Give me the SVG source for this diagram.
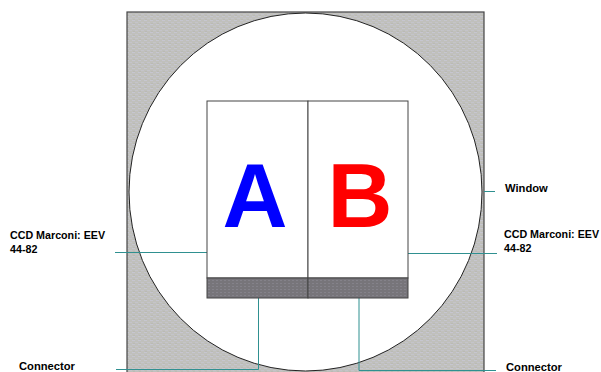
<svg xmlns="http://www.w3.org/2000/svg" width="601" height="372" viewBox="0 0 601 372">
<style>
text{font-family:"Liberation Sans",Arial,sans-serif;font-size:10.7px;font-weight:bold;fill:#000}
.w{font-size:11.2px}
.big{font-size:90px}
.c{fill:none;stroke:#2f9090;stroke-width:1}
</style>
<defs>
<pattern id="g" width="6" height="4" patternUnits="userSpaceOnUse">
<rect width="6" height="4" fill="#c0c0bc"/>
<rect x="0" y="0" width="3" height="1" fill="#c6c6d0"/>
<rect x="3" y="2" width="3" height="1" fill="#c4c4ca"/>
<rect x="1" y="3" width="2" height="1" fill="#babab4"/>
</pattern>
<pattern id="d" width="4" height="3" patternUnits="userSpaceOnUse">
<rect width="4" height="3" fill="#77757a"/>
<rect x="0" y="1" width="2" height="1" fill="#84828a"/>
</pattern>
</defs>
<rect width="601" height="372" fill="#fff"/>
<g id="window">
<rect x="127" y="12" width="357" height="362" fill="url(#g)" stroke="#444" stroke-width="1.2"/>
<ellipse cx="305.500" cy="192" rx="176.500" ry="179" fill="#fff" stroke="#222" stroke-width="1"/>
</g>
<g id="connectors">
<path class="c" d="M115 252.500H207"/>
<path class="c" d="M408 253.500H497"/>
<path class="c" d="M258.500 298V369.500H116"/>
<path class="c" d="M359 298V370.500H496"/>
<path class="c" d="M484 191.500H495"/>
</g>
<g id="ccd-a">
<rect x="207" y="101" width="101" height="177" fill="#fff" stroke="#444"/>
<rect x="207" y="278" width="101" height="20" fill="url(#d)" stroke="#444"/>
<text class="big" x="255" y="227" text-anchor="middle" style="fill:#0000ff">A</text>
</g>
<g id="ccd-b">
<rect x="308" y="101" width="100" height="177" fill="#fff" stroke="#444"/>
<rect x="308" y="278" width="100" height="20" fill="url(#d)" stroke="#444"/>
<text class="big" x="360" y="227" text-anchor="middle" style="fill:#ff0000">B</text>
</g>
<g id="labels">
<text x="10" y="239">CCD Marconi: EEV</text>
<text x="10" y="253">44-82</text>
<text x="504" y="238">CCD Marconi: EEV</text>
<text x="504" y="252">44-82</text>
<text class="w" x="505" y="192">Window</text>
<text class="w" x="19" y="370">Connector</text>
<text class="w" x="506" y="371">Connector</text>
</g>
</svg>
